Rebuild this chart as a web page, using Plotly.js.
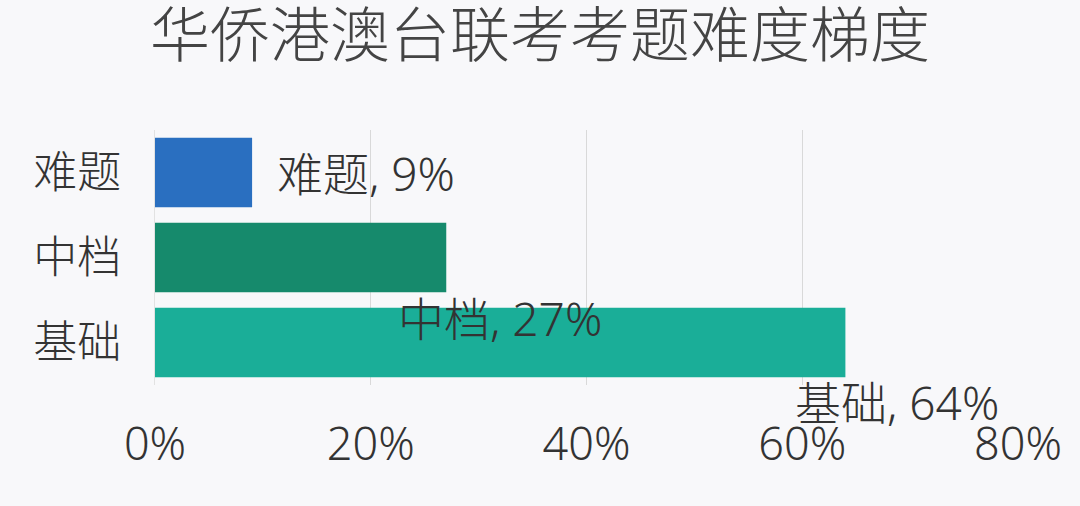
<!DOCTYPE html>
<html><head><meta charset="utf-8">
<script src="https://cdn.plot.ly/plotly-3.0.1.min.js"></script>
<style>html,body{margin:0;padding:0;background:#f8f8fa;}</style>
</head><body><div id="chart" style="width:1080px;height:506px;"></div>
<script>
const categories = ['难题', '中档', '基础'];
const values = [9, 27, 64];
const barColors = ['#2a6fc0', '#168a6c', '#1aae98'];
const tickVals = [0, 20, 40, 60, 80];
const tickText = ['0%', '20%', '40%', '60%', '80%'];
const titleText = '华侨港澳台联考考题难度梯度';

const font = '"Noto Sans", "Noto Sans CJK SC", sans-serif';
const labelOffsets = [[23, 0], [-50, -60], [-52, -59]];

const annotations = categories.map((c, i) => ({
  x: values[i], y: c, xref: 'x', yref: 'y',
  text: c + ', ' + values[i] + '%',
  showarrow: false, xanchor: 'left', yanchor: 'middle',
  xshift: labelOffsets[i][0], yshift: labelOffsets[i][1],
  font: {family: font, size: 46, weight: 300, color: '#333333'}
}));

Plotly.newPlot('chart', [{
  type: 'bar', orientation: 'h',
  x: values, y: categories,
  marker: {color: barColors},
  hoverinfo: 'none'
}], {
  width: 1080, height: 506,
  paper_bgcolor: '#f8f8fa', plot_bgcolor: '#f8f8fa',
  margin: {l: 155, r: 62, t: 130, b: 121},
  bargap: 0.18,
  showlegend: false,
  title: {text: titleText, x: 0.5, xanchor: 'center', y: 0.928, yanchor: 'middle',
          font: {family: font, size: 60, weight: 300, color: '#444444'}},
  xaxis: {range: [0, 80], tickvals: tickVals, ticktext: tickText,
          showgrid: true, gridcolor: '#d9d9d9', gridwidth: 1,
          zeroline: false, showline: false, ticks: '', ticklabelstandoff: 29,
          tickfont: {family: font, size: 45, weight: 300, color: '#333333'}},
  yaxis: {autorange: 'reversed', showgrid: false, zeroline: false,
          showline: true, linecolor: '#e2e2e2', ticks: '', ticklabelstandoff: 24,
          tickfont: {family: font, size: 44, weight: 300, color: '#333333'}},
  annotations: annotations
}, {staticPlot: true});
</script></body></html>
